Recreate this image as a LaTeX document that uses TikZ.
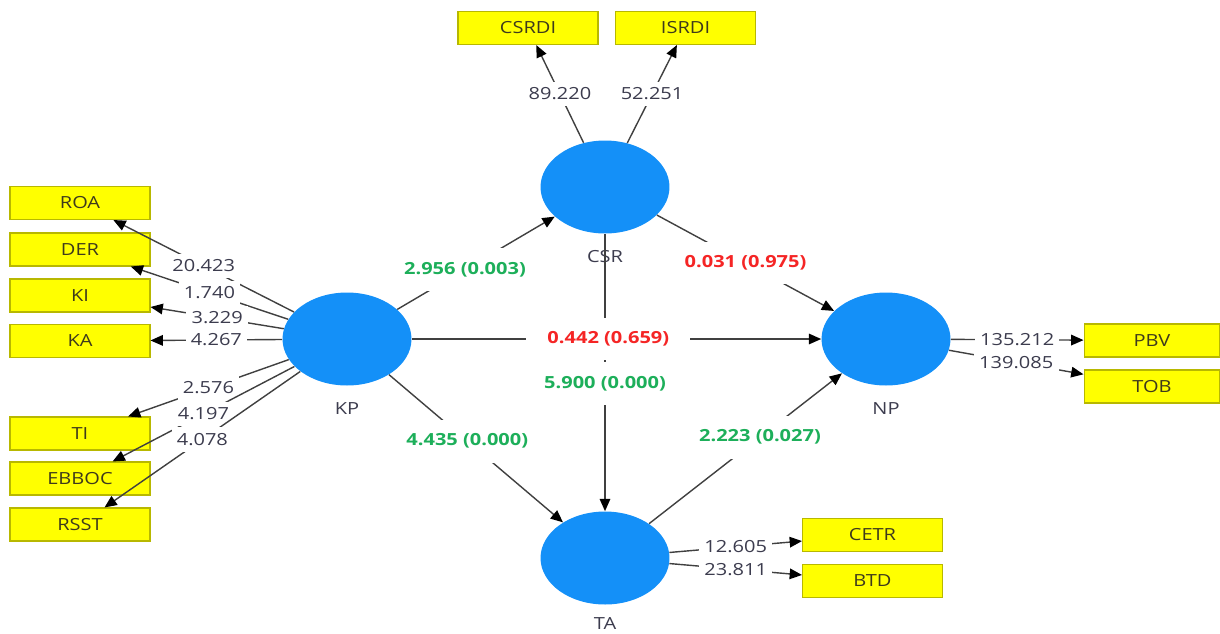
\documentclass[tikz,border=0pt]{standalone}
\usepackage{fontspec}
\setmainfont[FakeStretch=1.2]{Open Sans}
\usetikzlibrary{arrows.meta,shapes.geometric}

\definecolor{latblue}{HTML}{1490F8}
\definecolor{boxfill}{HTML}{FFFF00}
\definecolor{boxedge}{HTML}{B8B800}
\definecolor{boxtext}{HTML}{3E3A1C}
\definecolor{numtext}{HTML}{3C3C4E}
\definecolor{linegrey}{HTML}{404040}
\definecolor{sigreen}{HTML}{1DAF5A}
\definecolor{nsred}{HTML}{F52525}

\begin{document}
\begin{tikzpicture}[x=0.02cm,y=-0.02cm,
  font=\fontsize{9.5}{11}\selectfont,
  latent/.style={ellipse, fill=latblue, minimum width=2.58cm, minimum height=1.86cm, inner sep=0pt},
  indic/.style={rectangle, draw=boxedge, fill=boxfill, line width=0.6pt,
    minimum width=2.8cm, minimum height=0.66cm, inner sep=0pt, text=boxtext},
  latname/.style={text=numtext, inner sep=1pt},
  conn/.style={draw=linegrey, line width=0.8pt, -{Triangle[length=7pt,width=6pt,color=black]}},
  load/.style={fill=white, text=numtext, inner xsep=3pt, inner ysep=3.5pt, pos=0.5},
  coefsig/.style={fill=white, text=sigreen, font=\fontsize{9.5}{11}\selectfont\bfseries, inner xsep=12pt, inner ysep=8pt},
  coefns/.style={coefsig, text=nsred}
]
\useasboundingbox (0,0) rectangle (1220,633);

% latent variables
\node[latent] (CSR) at (605,187) {};
\node[latent] (KP)  at (347,339) {};
\node[latent] (NP)  at (886,339) {};
\node[latent] (TA)  at (605,558) {};

\node[latname] (CSRname) at (605,257) {CSR};
\node[latname] (KPname)  at (347,409) {KP};
\node[latname] (NPname)  at (886,409) {NP};
\node[latname] (TAname)  at (605,624) {TA};

% indicators
\node[indic] (ROA)   at (80,203)   {ROA};
\node[indic] (DER)   at (80,249.5) {DER};
\node[indic] (KI)    at (80,295.5) {KI};
\node[indic] (KA)    at (80,341)   {KA};
\node[indic] (TI)    at (80,433.5) {TI};
\node[indic] (EBBOC) at (80,478.5) {EBBOC};
\node[indic] (RSST)  at (80,524.5) {RSST};

\node[indic] (CSRDI) at (528,28)   {CSRDI};
\node[indic] (ISRDI) at (685.5,28) {ISRDI};

\node[indic, minimum width=2.72cm] (PBV) at (1152,340.5) {PBV};
\node[indic, minimum width=2.72cm] (TOB) at (1152,386.5) {TOB};

\node[indic] (CETR) at (872.5,535) {CETR};
\node[indic] (BTD)  at (872.5,581) {BTD};

% outer loadings
\draw[conn] (KP) -- node[load] {20.423} (ROA);
\draw[conn] (KP) -- node[load] {1.740} (DER);
\draw[conn] (KP) -- node[load] {3.229} (KI);
\draw[conn] (KP) -- node[load] {4.267} (KA);
\draw[conn] (KP) -- node[load] {2.576} (TI);
\draw[conn] (KP) -- node[load] {4.197} (EBBOC);
\draw[conn] (KP) -- node[load] {4.078} (RSST);

\draw[conn] (CSR) -- node[load] {89.220} (CSRDI);
\draw[conn] (CSR) -- node[load] {52.251} (ISRDI);

\draw[conn] (NP) -- node[load] {135.212} (PBV);
\draw[conn] (NP) -- node[load] {139.085} (TOB);

\draw[conn] (TA) -- node[load] {12.605} (CETR);
\draw[conn] (TA) -- node[load] {23.811} (BTD);

% structural paths
\draw[conn] (CSR) -- node[coefsig, pos=0.54] {5.900 (0.000)} (TA);
\draw[conn] (KP) -- node[coefns, pos=0.48] {0.442 (0.659)} (NP);
\draw[conn] (KP) -- node[coefsig, pos=0.43] {2.956 (0.003)} (CSR);
\draw[conn] (CSR) -- node[coefns, pos=0.5] {0.031 (0.975)} (NP);
\draw[conn] (KP) -- node[coefsig, pos=0.45] {4.435 (0.000)} (TA);
\draw[conn] (TA) -- node[coefsig, pos=0.575] {2.223 (0.027)} (NP);
\end{tikzpicture}
\end{document}
